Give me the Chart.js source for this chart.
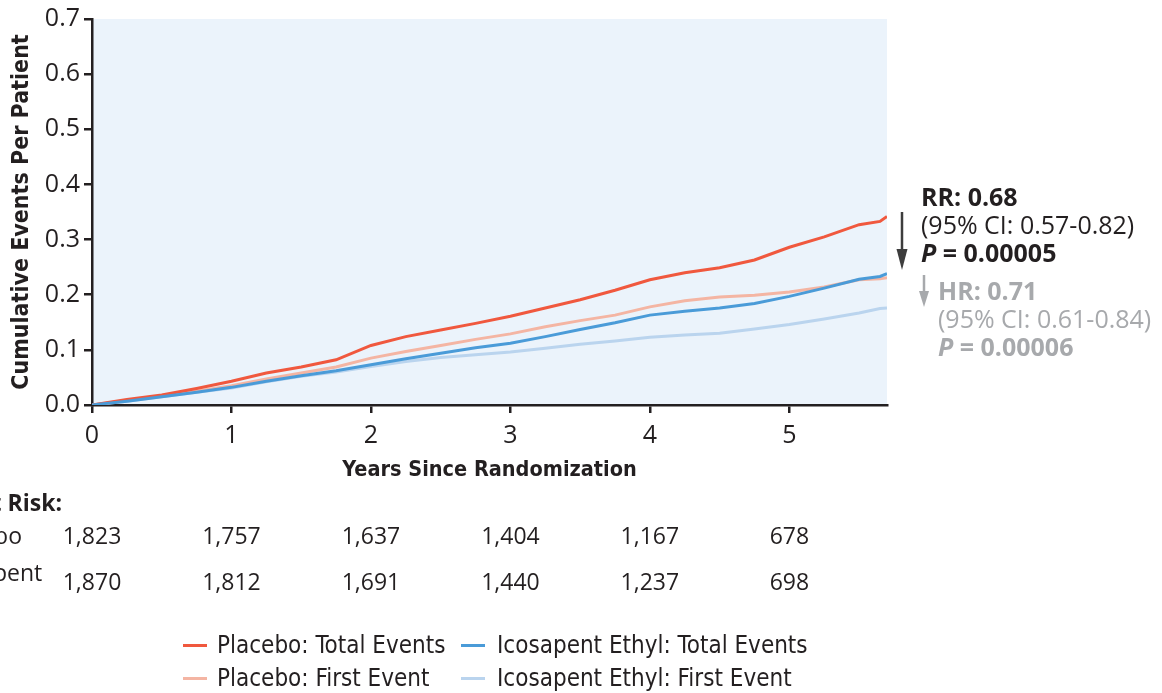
<!DOCTYPE html>
<html>
<head>
<meta charset="utf-8">
<script src="https://cdn.jsdelivr.net/npm/chart.js@4.4.0/dist/chart.umd.min.js"></script>
<style>
  html, body { margin: 0; padding: 0; background: #fff; }
  #wrap { position: relative; width: 1162px; height: 693px; overflow: hidden; font-family: "Open Sans", "Noto Sans", sans-serif; color: #231f20; }
  #wrap canvas { position: absolute; left: 0; top: 0; }
  .lbl { position: absolute; white-space: nowrap; font-size: 23px; line-height: 1; }
  .note { position: absolute; white-space: nowrap; font-size: 25px; line-height: 28px; }
  .leg { position: absolute; white-space: nowrap; font-family: "Liberation Sans Narrow", "DejaVu Sans Condensed", sans-serif; font-size: 24px; line-height: 1; color: #231f20; }
  .sw { position: absolute; height: 3px; width: 24px; }
</style>
</head>
<body>
<div id="wrap">
  <canvas id="chart" width="1162" height="693"></canvas>

  <!-- number at risk labels, partly cut off at the left edge as in the source -->
  <div class="lbl" style="right:1100px; top:491px; font-weight:700;">Number at Risk:</div>
  <div class="lbl" style="right:1140px; top:524px;">Placebo</div>
  <div class="lbl" style="left:-62px; top:559px; line-height:26px;">Icosapent<br>Ethyl</div>

  <!-- RR / HR annotation -->
  <svg style="position:absolute; left:890px; top:205px;" width="50" height="110">
    <line x1="12" y1="7" x2="12" y2="50" stroke="#3d3d3d" stroke-width="2.5"/>
    <polygon points="6.5,44 17.5,44 12,65" fill="#3d3d3d"/>
    <line x1="34" y1="70" x2="34" y2="90" stroke="#a7a9ac" stroke-width="2.5"/>
    <polygon points="29,86 39,86 34,102" fill="#a7a9ac"/>
  </svg>
  <div class="note" style="left:921px; top:182px;">
    <b>RR: 0.68</b><br>(95% CI: 0.57-0.82)<br><b><i>P</i> = 0.00005</b>
  </div>
  <div class="note" style="left:938px; top:276px; color:#a7a9ac;">
    <b>HR: 0.71</b><br>(95% CI: 0.61-0.84)<br><b><i>P</i> = 0.00006</b>
  </div>

  <!-- legend -->
  <div class="sw" style="left:183px; top:644px; background:#f0583e;"></div>
  <div class="leg" style="left:217px; top:633px;">Placebo: Total Events</div>
  <div class="sw" style="left:461px; top:644px; background:#4a9bd8;"></div>
  <div class="leg" style="left:497px; top:633px;">Icosapent Ethyl: Total Events</div>
  <div class="sw" style="left:183px; top:677px; background:#f4b5a3;"></div>
  <div class="leg" style="left:217px; top:666px;">Placebo: First Event</div>
  <div class="sw" style="left:461px; top:677px; background:#bad4ee;"></div>
  <div class="leg" style="left:497px; top:666px;">Icosapent Ethyl: First Event</div>
</div>

<script>
// years since randomization
const years = [0, 0.25, 0.5, 0.75, 1.0, 1.25, 1.5, 1.75, 2.0, 2.25, 2.5, 2.75, 3.0, 3.25, 3.5, 3.75, 4.0, 4.25, 4.5, 4.75, 5.0, 5.25, 5.5, 5.65, 5.7];

// cumulative events per patient
const placeboTotal = [0, 0.010, 0.018, 0.030, 0.043, 0.058, 0.069, 0.082, 0.108, 0.124, 0.136, 0.148, 0.161, 0.176, 0.191, 0.208, 0.227, 0.240, 0.249, 0.263, 0.286, 0.305, 0.327, 0.333, 0.342];
const placeboFirst = [0, 0.008, 0.016, 0.025, 0.035, 0.047, 0.058, 0.069, 0.085, 0.097, 0.108, 0.119, 0.129, 0.142, 0.153, 0.163, 0.178, 0.189, 0.196, 0.199, 0.205, 0.214, 0.227, 0.229, 0.231];
const icosaTotal = [0, 0.007, 0.015, 0.023, 0.032, 0.043, 0.053, 0.062, 0.073, 0.084, 0.094, 0.104, 0.112, 0.124, 0.137, 0.149, 0.163, 0.170, 0.176, 0.184, 0.197, 0.212, 0.228, 0.233, 0.238];
const icosaFirst = [0, 0.007, 0.015, 0.023, 0.031, 0.042, 0.052, 0.060, 0.070, 0.079, 0.086, 0.091, 0.096, 0.103, 0.110, 0.116, 0.123, 0.127, 0.130, 0.138, 0.146, 0.156, 0.167, 0.175, 0.176];

// axis ticks
const xTicks = [0, 1, 2, 3, 4, 5];
const yTicks = [0, 0.1, 0.2, 0.3, 0.4, 0.5, 0.6, 0.7];

// number at risk
const riskYears = [0, 1, 2, 3, 4, 5];
const riskPlacebo = ['1,823', '1,757', '1,637', '1,404', '1,167', '678'];
const riskIcosa = ['1,870', '1,812', '1,691', '1,440', '1,237', '698'];

const ink = '#231f20';
const sans = '"Open Sans", "Noto Sans", sans-serif';
const narrow = '"Liberation Sans Narrow", "DejaVu Sans Condensed", sans-serif';

const toXY = vals => years.map((t, i) => ({ x: t, y: vals[i] }));

const plotBackground = {
  id: 'plotBackground',
  beforeDraw(chart) {
    const { ctx, chartArea: a } = chart;
    ctx.save();
    ctx.fillStyle = '#ebf3fb';
    ctx.fillRect(a.left, a.top, a.right - a.left, a.bottom - a.top);
    ctx.restore();
  }
};

const riskTable = {
  id: 'riskTable',
  afterDraw(chart) {
    const { ctx } = chart;
    const x = chart.scales.x;
    ctx.save();
    ctx.fillStyle = ink;
    ctx.font = '23px ' + sans;
    ctx.textAlign = 'center';
    ctx.textBaseline = 'middle';
    riskYears.forEach((t, i) => {
      const px = x.getPixelForValue(t);
      ctx.fillText(riskPlacebo[i], px, 537);
      ctx.fillText(riskIcosa[i], px, 583);
    });
    ctx.restore();
  }
};

new Chart(document.getElementById('chart'), {
  type: 'line',
  data: {
    datasets: [
      { label: 'Icosapent Ethyl: Total Events', data: toXY(icosaTotal), borderColor: '#4a9bd8', borderWidth: 3 },
      { label: 'Placebo: Total Events', data: toXY(placeboTotal), borderColor: '#f0583e', borderWidth: 3 },
      { label: 'Placebo: First Event', data: toXY(placeboFirst), borderColor: '#f4b5a3', borderWidth: 3 },
      { label: 'Icosapent Ethyl: First Event', data: toXY(icosaFirst), borderColor: '#bad4ee', borderWidth: 3 }
    ]
  },
  options: {
    responsive: false,
    animation: false,
    events: [],
    elements: { point: { radius: 0 }, line: { tension: 0, fill: false } },
    layout: { padding: { left: 0, top: 19, right: 275, bottom: 208 } },
    plugins: {
      legend: { display: false },
      tooltip: { enabled: false }
    },
    scales: {
      x: {
        type: 'linear',
        min: 0,
        max: 5.7,
        afterFit: s => { s.height = 80; },
        afterBuildTicks: s => { s.ticks = xTicks.map(v => ({ value: v })); },
        border: { color: ink, width: 2.5 },
        grid: { drawOnChartArea: false, drawTicks: true, tickLength: 8, color: ink, lineWidth: 2.5 },
        ticks: { color: ink, padding: 8, font: { family: sans, size: 25 } },
        title: {
          display: true,
          text: 'Years Since Randomization',
          color: ink,
          padding: { top: 0, bottom: 2 },
          font: { family: narrow, size: 21.5, weight: 'bold' }
        }
      },
      y: {
        min: 0,
        max: 0.7,
        afterFit: s => { s.width = 92; },
        afterBuildTicks: s => { s.ticks = yTicks.map(v => ({ value: v })); },
        border: { color: ink, width: 2.5 },
        grid: { drawOnChartArea: false, drawTicks: true, tickLength: 8, color: ink, lineWidth: 2.5 },
        ticks: {
          color: ink,
          padding: 4,
          font: { family: sans, size: 25 },
          callback: v => v.toFixed(1)
        },
        title: {
          display: true,
          text: 'Cumulative Events Per Patient',
          color: ink,
          padding: { top: 8, bottom: 0 },
          font: { family: narrow, size: 23, weight: 'bold' }
        }
      }
    }
  },
  plugins: [plotBackground, riskTable]
});
</script>
</body>
</html>
